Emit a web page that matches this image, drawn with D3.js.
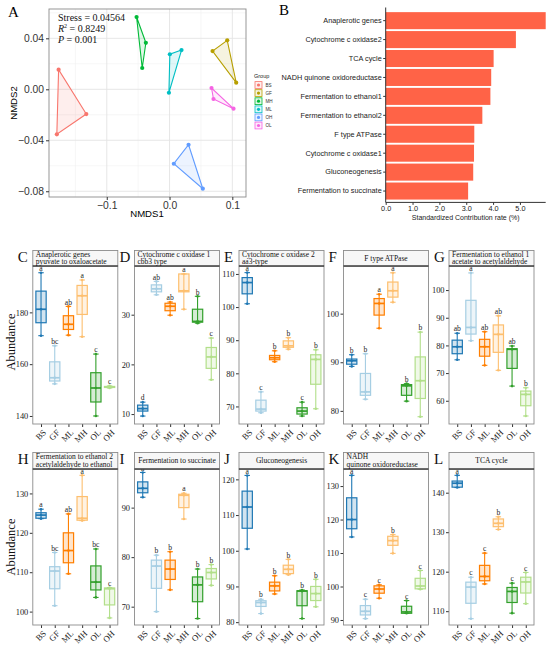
<!DOCTYPE html>
<html>
<head>
  <meta charset="utf-8">
  <title>NMDS, contribution and abundance panels</title>
  <script src="https://cdn.jsdelivr.net/npm/d3@7/dist/d3.min.js"></script>
  <style>
    body { margin: 0; background: #fff; }
  </style>
</head>
<body>
<div id="chart"></div>
<script>
  // ---- panel A : NMDS ----
  const nmdsGroups = ["BS", "GF", "MH", "ML", "OH", "OL"]
  const nmdsGroup = ["BS", "BS", "BS", "GF", "GF", "GF", "MH", "MH", "MH",
                     "ML", "ML", "ML", "OH", "OH", "OH", "OL", "OL", "OL"]
  const nmds1 = [-0.1767, -0.1326, -0.1795, 0.0685, 0.0919, 0.1062, -0.0525, -0.0377, -0.0435,
                 0.0005, 0.0191, -0.0010, 0.0303, 0.0068, 0.0530, 0.0669, 0.0700, 0.1019]
  const nmds2 = [0.0154, -0.0194, -0.0353, 0.0300, 0.0384, 0.0052, 0.0567, 0.0365, 0.0167,
                 0.0275, 0.0308, -0.0027, -0.0435, -0.0584, -0.0780, 0.0010, -0.0076, -0.0152]
  const nmdsStats = ["Stress = 0.04564", "0.8249", "0.001"]

  // ---- panel B : contribution ----
  const contribGenes = ["Anaplerotic genes", "Cytochrome c oxidase2", "TCA cycle",
    "NADH quinone oxidoreductase", "Fermentation to ethanol1", "Fermentation to ethanol2",
    "F type ATPase", "Cytochrome c oxidase1", "Gluconeogenesis", "Fermentation to succinate"]
  const contribRate = [5.96, 4.85, 4.02, 3.93, 3.90, 3.60, 3.30, 3.29, 3.26, 3.07]
  const contribTicks = [0, 1, 2, 3, 4, 5]

  // ---- panels C-L : abundance boxplots ----
  const boxGroups = ["BS", "GF", "ML", "MH", "OL", "OH"]
  const panelIds = ["C", "D", "E", "F", "G", "H", "I", "J", "K", "L"]
  const panelTitles = [
    ["Anaplerotic genes", "pyuvate to oxaloacetate"],
    ["Cytochrome c oxidase 1", "cbb3 type"],
    ["Cytochrome c oxidase 2", "aa3-type"],
    ["F type ATPase"],
    ["Fermentation to ethanol 1", "acetate to acetylaldehyde"],
    ["Fermentation to ethanol 2", "acetylaldehyde to ethanol"],
    ["Fermentation to succinate"],
    ["Gluconeogenesis"],
    ["NADH", "quinone oxidoreductase"],
    ["TCA cycle"]
  ]
  const panelTicks = [
    [140, 160, 180], [10, 20, 30], [70, 80, 90, 100, 110], [80, 90, 100], [60, 70, 80, 90, 100],
    [100, 110, 120, 130], [70, 80, 90], [80, 90, 100, 110, 120], [90, 100, 110, 120, 130], [110, 120, 130, 140]
  ]
  const panelRanges = [
    [136.9, 197.9], [8.0, 39.8], [64.7, 112.4], [77.3, 109.8], [51.6, 108.7],
    [96.6, 136.2], [66.3, 97.8], [79.2, 122.9], [88.5, 135.1], [106.5, 146.0]
  ]
  // min, q1, median, q3, max for BS GF ML MH OL OH
  const panelStats = [
    [[171, 176, 181.2, 188.2, 195.3], [152.4, 153.5, 154.75, 160.9, 167.1], [171.2, 173.4, 175.4, 178.7, 182.3],
     [170.6, 179.2, 186.4, 190.4, 192.5], [140, 145.4, 150.8, 156.7, 163.9], [150.8, 151.0, 151.2, 151.4, 151.6]],
    [[9.6, 10.6, 11.1, 11.8, 12.4], [34.0, 34.6, 35.2, 36.0, 36.7], [29.9, 30.8, 31.7, 32.3, 32.55],
     [31.1, 34.6, 34.8, 38.2, 38.2], [28.3, 28.5, 28.65, 31.1, 33.7], [16.9, 19.2, 21.5, 23.4, 25.3]],
    [[101.0, 104.0, 107.4, 108.9, 110.4], [68.1, 68.6, 69.2, 71.9, 74.4], [83.5, 84.1, 84.7, 85.4, 86.8],
     [87.3, 87.85, 88.3, 89.8, 90.75], [67.1, 67.7, 68.6, 69.6, 71.3], [69.3, 76.7, 84.2, 85.6, 87.1]],
    [[89.15, 89.6, 90.3, 90.66, 91.55], [82.4, 83.2, 83.9, 87.7, 91.75], [97.0, 99.7, 102.1, 103.1, 104.0],
     [102.35, 103.4, 104.7, 106.5, 108.4], [82.0, 83.2, 85.15, 85.4, 85.6], [78.8, 82.55, 86.2, 91.1, 96.2]],
    [[74.8, 77.0, 79.5, 81.9, 84.4], [81.7, 84.1, 86.5, 96.3, 106.2], [72.8, 76.1, 79.5, 82.2, 84.95],
     [71.0, 77.5, 84.0, 87.4, 90.7], [65.3, 71.7, 78.6, 78.8, 79.8], [54.5, 58.2, 62.3, 63.5, 64.7]],
    [[123.6, 123.7, 124.5, 125.1, 126.0], [101.5, 105.8, 110.3, 111.4, 115.0], [109.6, 112.4, 115.5, 120.0, 124.8],
     [123.1, 123.2, 123.7, 129.2, 134.6], [103.6, 105.5, 107.5, 111.6, 115.9], [98.4, 101.7, 105.8, 106.0, 106.1]],
    [[92.1, 93.0, 93.9, 95.2, 97.1], [69.0, 73.7, 78.2, 79.4, 80.4], [73.4, 75.5, 77.6, 79.4, 81.1],
     [87.7, 90.0, 92.5, 92.7, 92.9], [67.6, 71.0, 74.4, 76.0, 77.6], [74.3, 75.6, 76.9, 77.7, 78.5]],
    [[100.5, 106.3, 112.25, 116.7, 121.1], [82.4, 84.4, 85.5, 86.0, 86.4], [87.9, 88.75, 90.15, 91.2, 93.0],
     [93.3, 93.6, 94.8, 95.95, 97.6], [81.0, 84.6, 88.7, 88.8, 89.0], [84.3, 86.05, 88.0, 90.0, 92.0]],
    [[114.8, 117.25, 120.0, 126.5, 133.2], [90.4, 91.5, 92.6, 94.3, 96.2], [96.5, 98.0, 99.25, 100.2, 100.5],
     [109.9, 112.3, 113.7, 115.0, 115.5], [92.0, 92.0, 92.4, 94.1, 95.8], [99.2, 99.3, 100.15, 102.45, 104.8]],
    [[141.3, 141.4, 142.4, 142.95, 144.4], [108.1, 112.0, 116.1, 117.35, 118.6], [116.9, 117.7, 118.8, 121.6, 124.7],
     [130.7, 131.4, 132.25, 133.35, 133.9], [109.5, 112.2, 115.0, 116.0, 117.1], [111.9, 114.6, 117.4, 118.6, 119.8]]
  ]
  const panelLetters = [
    ["a", "bc", "ab", "a", "c", "c"],
    ["d", "ab", "ab", "a", "b", "c"],
    ["a", "c", "b", "b", "c", "b"],
    ["b", "b", "a", "a", "b", "b"],
    ["ab", "a", "ab", "ab", "ab", "b"],
    ["a", "bc", "ab", "a", "bc", "c"],
    ["a", "b", "b", "a", "b", "b"],
    ["a", "b", "b", "b", "b", "b"],
    ["a", "c", "c", "b", "c", "c"],
    ["a", "c", "c", "b", "c", "c"]
  ]

  const hueColors = ["#F8766D", "#B79F00", "#00BA38", "#00BFC4", "#619CFF", "#F564E3"]
  const boxColors = ["#1F78B4", "#A6CEE3", "#FF7F00", "#FDBF6F", "#33A02C", "#B2DF8A"]
  const serif = "'Liberation Serif', 'Times New Roman', serif"
  const sans = "'Liberation Sans', Arial, sans-serif"

  const svg = d3.select("#chart").append("svg")
    .attr("width", 550)
    .attr("height", 646)

  // =========== A ===========
  const ax = d3.scaleLinear().domain([-0.192, 0.1218]).range([49, 246])
  const ay = d3.scaleLinear().domain([-0.0845, 0.063]).range([197, 9])
  const gA = svg.append("g")

  gA.append("rect").attr("x", 49).attr("y", 9).attr("width", 197).attr("height", 188).attr("fill", "#fff")
  const minorX = [-0.15, -0.05, 0.05], majorX = [-0.1, 0, 0.1]
  const minorY = [-0.06, -0.02, 0.02, 0.06], majorY = [-0.08, -0.04, 0, 0.04]
  gA.selectAll(".mnx").data(minorX).enter().append("line")
    .attr("x1", d => ax(d)).attr("x2", d => ax(d)).attr("y1", 9).attr("y2", 197)
    .attr("stroke", "#f0f0f0").attr("stroke-width", 0.6)
  gA.selectAll(".mny").data(minorY).enter().append("line")
    .attr("y1", d => ay(d)).attr("y2", d => ay(d)).attr("x1", 49).attr("x2", 246)
    .attr("stroke", "#f0f0f0").attr("stroke-width", 0.6)
  gA.selectAll(".mjx").data(majorX).enter().append("line")
    .attr("x1", d => ax(d)).attr("x2", d => ax(d)).attr("y1", 9).attr("y2", 197)
    .attr("stroke", "#e3e3e3").attr("stroke-width", 0.9)
  gA.selectAll(".mjy").data(majorY).enter().append("line")
    .attr("y1", d => ay(d)).attr("y2", d => ay(d)).attr("x1", 49).attr("x2", 246)
    .attr("stroke", "#e3e3e3").attr("stroke-width", 0.9)

  const nmdsPts = nmds1.map((v, i) => ({ g: nmdsGroup[i], x: v, y: nmds2[i] }))
  nmdsGroups.forEach((grp, gi) => {
    const pts = nmdsPts.filter(p => p.g === grp).map(p => [ax(p.x), ay(p.y)])
    const hull = d3.polygonHull(pts)
    gA.append("path")
      .attr("d", "M" + hull.join("L") + "Z")
      .attr("fill", hueColors[gi]).attr("fill-opacity", 0.12)
      .attr("stroke", hueColors[gi]).attr("stroke-width", 1.1)
  })
  gA.selectAll(".pt").data(nmdsPts).enter().append("circle")
    .attr("cx", d => ax(d.x)).attr("cy", d => ay(d.y)).attr("r", 2.1)
    .attr("fill", d => hueColors[nmdsGroups.indexOf(d.g)])

  gA.append("rect").attr("x", 49).attr("y", 9).attr("width", 197).attr("height", 188)
    .attr("fill", "none").attr("stroke", "#8c8c8c").attr("stroke-width", 0.9)

  const axA = gA.append("g").attr("transform", "translate(0,197)")
    .call(d3.axisBottom(ax).tickValues(majorX).tickSize(3).tickPadding(1.5).tickFormat(d3.format(".1f")))
  const ayA = gA.append("g").attr("transform", "translate(49,0)")
    .call(d3.axisLeft(ay).tickValues(majorY).tickSize(3).tickPadding(2).tickFormat(d3.format(".2f")))
  ;[axA, ayA].forEach(a => {
    a.select(".domain").remove()
    a.selectAll("line").attr("stroke", "#333")
    a.selectAll("text").attr("fill", "#333").style("font-family", sans).style("font-size", "10.3px")
  })

  gA.append("text").attr("x", 147).attr("y", 217).attr("text-anchor", "middle")
    .style("font-family", sans).style("font-size", "9.6px").text("NMDS1")
  gA.append("text").attr("transform", "translate(17,103) rotate(-90)").attr("text-anchor", "middle")
    .style("font-family", sans).style("font-size", "9.6px").text("NMDS2")

  const statText = gA.append("g").style("font-family", serif).style("font-size", "10px").attr("fill", "#111")
  statText.append("text").attr("x", 58).attr("y", 20.5).text(nmdsStats[0])
  const r2 = statText.append("text").attr("x", 58).attr("y", 31.5)
  r2.append("tspan").style("font-style", "italic").text("R")
  r2.append("tspan").attr("dy", -3.5).style("font-size", "6px").text("2")
  r2.append("tspan").attr("dy", 3.5).text(" =  " + nmdsStats[1])
  const pv = statText.append("text").attr("x", 58).attr("y", 42.5)
  pv.append("tspan").style("font-style", "italic").text("P")
  pv.append("tspan").text(" =  " + nmdsStats[2])

  gA.append("text").attr("x", 8).attr("y", 17).style("font-family", serif).style("font-size", "15px").text("A")

  // legend
  const leg = gA.append("g").style("font-family", sans)
  leg.append("text").attr("x", 254).attr("y", 78).style("font-size", "5.5px").attr("fill", "#222").text("Group")
  nmdsGroups.forEach((grp, gi) => {
    const cy = 85 + gi * 8.1
    leg.append("rect").attr("x", 255).attr("y", cy - 3.4).attr("width", 7).attr("height", 6.8)
      .attr("fill", hueColors[gi]).attr("fill-opacity", 0.12)
      .attr("stroke", hueColors[gi]).attr("stroke-width", 0.8)
    leg.append("circle").attr("cx", 258.5).attr("cy", cy).attr("r", 1.6).attr("fill", hueColors[gi])
    leg.append("text").attr("x", 265.5).attr("y", cy + 1.6).style("font-size", "4.6px").attr("fill", "#333").text(grp)
  })

  // =========== B ===========
  const bx = d3.scaleLinear().domain([0, 5.96]).range([385.7, 545.7])
  const by = d3.scaleBand().domain(contribGenes).range([9.3, 202.4]).paddingInner(0.1).paddingOuter(0.15)
  const gB = svg.append("g")
  gB.selectAll(".bar").data(contribGenes).enter().append("rect")
    .attr("x", bx(0)).attr("y", d => by(d))
    .attr("width", (d, i) => bx(contribRate[i]) - bx(0))
    .attr("height", by.bandwidth())
    .attr("fill", "#FF6347")
  const bxA = gB.append("g").attr("transform", "translate(0,202.4)")
    .call(d3.axisBottom(bx).tickValues(contribTicks).tickSize(2.5).tickPadding(1.2))
  const byA = gB.append("g").attr("transform", "translate(385.7,0)")
    .call(d3.axisLeft(by).tickSize(2.5).tickPadding(1.5))
  ;[bxA, byA].forEach(a => {
    a.select(".domain").attr("stroke", "#333").attr("stroke-width", 1)
    a.selectAll("line").attr("stroke", "#333")
    a.selectAll("text").attr("fill", "#222").style("font-family", sans).style("font-size", "7.3px")
  })
  byA.select(".domain").attr("d", "M0,7.5V202.4")
  bxA.select(".domain").attr("d", "M385.7,0H545.7")
  gB.append("text").attr("x", 465.7).attr("y", 219.5).attr("text-anchor", "middle")
    .style("font-family", sans).style("font-size", "7px").attr("fill", "#222")
    .text("Standardized Contribution rate (%)")
  gB.append("text").attr("x", 279).attr("y", 15).style("font-family", serif).style("font-size", "15px").text("B")

  // =========== C-L ===========
  const panelLeft = [32.8, 134.5, 239, 343.5, 449]
  const panelW = 85

  function drawBoxPanel (i) {
    const row = Math.floor(i / 5), col = i % 5
    const left = panelLeft[col]
    const stripTop = row ? 452.5 : 250.5
    const top = row ? 469 : 266
    const bottom = row ? 625 : 424

    const x = d3.scalePoint().domain(boxGroups).range([left, left + panelW]).padding(0.6)
    const y = d3.scaleLinear().domain(panelRanges[i]).range([bottom, top])
    const step = x.step()
    const bw = step * 0.75, cw = step * 0.4
    const g = svg.append("g")

    g.append("rect").attr("x", left).attr("y", top).attr("width", panelW).attr("height", bottom - top).attr("fill", "#fff")

    // y axis
    const yA = g.append("g").attr("transform", `translate(${left},0)`)
      .call(d3.axisLeft(y).tickValues(panelTicks[i]).tickSize(3).tickPadding(1.5))
    yA.select(".domain").remove()
    yA.selectAll("line").attr("stroke", "#333")
    yA.selectAll("text").attr("fill", "#222").style("font-family", serif).style("font-size", "8.4px")

    // x axis
    const xA = g.append("g").attr("transform", `translate(0,${bottom})`)
      .call(d3.axisBottom(x).tickSize(3))
    xA.select(".domain").remove()
    xA.selectAll("line").attr("stroke", "#333")
    xA.selectAll("text")
      .attr("y", 0).attr("dy", "0.35em")
      .attr("text-anchor", "end")
      .attr("transform", "translate(3,7) rotate(-45)")
      .attr("fill", "#222").style("font-family", serif).style("font-size", "8.6px")

    // boxes
    boxGroups.forEach((grp, j) => {
      const s = panelStats[i][j]
      const cx = x(grp)
      const col = boxColors[j]
      const b = g.append("g")
      b.append("line").attr("x1", cx).attr("x2", cx).attr("y1", y(s[0])).attr("y2", y(s[4]))
        .attr("stroke", col).attr("stroke-width", 1.1)
      ;[s[0], s[4]].forEach(v => {
        b.append("line").attr("x1", cx - cw / 2).attr("x2", cx + cw / 2).attr("y1", y(v)).attr("y2", y(v))
          .attr("stroke", col).attr("stroke-width", 1.1)
      })
      b.append("rect").attr("x", cx - bw / 2).attr("y", y(s[3]))
        .attr("width", bw).attr("height", Math.max(0.6, y(s[1]) - y(s[3])))
        .attr("fill", col).attr("fill-opacity", 0.2)
        .attr("stroke", col).attr("stroke-width", 1.2)
      b.append("line").attr("x1", cx - bw / 2).attr("x2", cx + bw / 2).attr("y1", y(s[2])).attr("y2", y(s[2]))
        .attr("stroke", col).attr("stroke-width", 1.7)
      ;[s[0], s[2], s[4]].forEach(v => {
        b.append("circle").attr("cx", cx).attr("cy", y(v)).attr("r", 1.3).attr("fill", col)
      })
      b.append("text").attr("x", cx).attr("y", y(s[4]) - 1.8).attr("text-anchor", "middle")
        .style("font-family", serif).style("font-size", "7.6px").attr("fill", "#222")
        .text(panelLetters[i][j])
    })

    // border
    g.append("rect").attr("x", left).attr("y", top).attr("width", panelW).attr("height", bottom - top)
      .attr("fill", "none").attr("stroke", "#8c8c8c").attr("stroke-width", 0.9)

    // strip
    const sh = top - stripTop
    g.append("rect").attr("x", left).attr("y", stripTop).attr("width", panelW).attr("height", sh)
      .attr("fill", "#f7f7f7").attr("stroke", "#8c8c8c").attr("stroke-width", 0.9)
    g.append("line").attr("x1", left).attr("x2", left + panelW).attr("y1", top).attr("y2", top)
      .attr("stroke", "#111").attr("stroke-width", 1.1)
    const lines = panelTitles[i]
    const st = g.append("text").style("font-family", serif).style("font-size", "7.5px").attr("fill", "#111")
    if (lines.length === 1) {
      st.attr("x", left + panelW / 2).attr("y", stripTop + sh / 2 + 2.7).attr("text-anchor", "middle").text(lines[0])
    } else {
      lines.forEach((t, k) => {
        st.append("tspan").attr("x", left + 3).attr("y", stripTop + sh * (0.42 + k * 0.45)).text(t)
      })
    }

    g.append("text").attr("x", left - 15).attr("y", stripTop + 11)
      .style("font-family", serif).style("font-size", "15px").attr("fill", "#111").text(panelIds[i])
  }

  panelIds.forEach((d, i) => drawBoxPanel(i))

  ;[342, 547].forEach(cy => {
    svg.append("text").attr("transform", `translate(15,${cy}) rotate(-90)`).attr("text-anchor", "middle")
      .style("font-family", serif).style("font-size", "12.5px").attr("fill", "#111").text("Abundance")
  })
</script>
</body>
</html>
